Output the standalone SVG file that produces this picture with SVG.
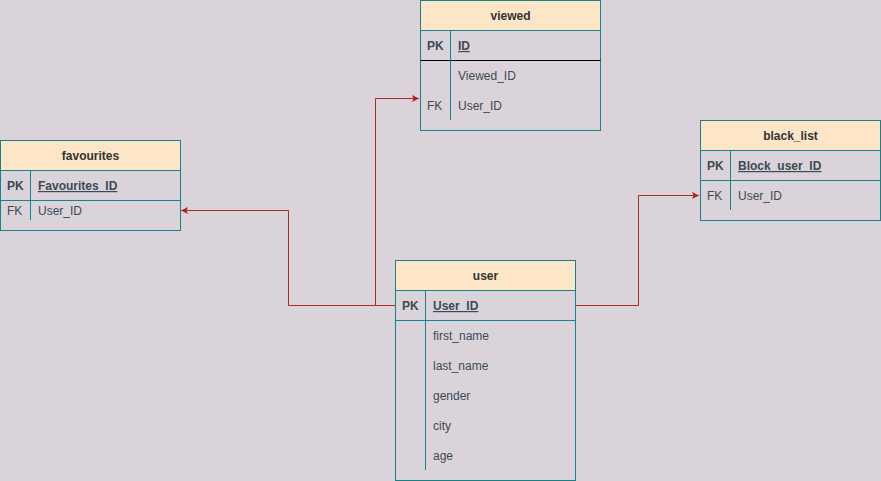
<svg xmlns="http://www.w3.org/2000/svg" width="881" height="481" viewBox="0 0 881 481">
<style>
.box{fill:#dbd3da;stroke:#12858a;stroke-width:1}
.hdr{fill:#fce6c7;stroke:#12858a;stroke-width:1}
.sep{stroke:#12858a;stroke-width:1}
.t{font-family:"Liberation Sans",Arial,sans-serif;font-size:12px;fill:#3c4a55}
.h{font-family:"Liberation Sans",Arial,sans-serif;font-size:12px;font-weight:bold;fill:#333333;text-anchor:middle}
.b{font-weight:bold}
.u{text-decoration:underline}
.e{fill:none;stroke:#ad2a25;stroke-width:1}
</style>
<defs>
<marker id="arr" markerWidth="8" markerHeight="8" refX="7" refY="4" orient="auto" markerUnits="userSpaceOnUse">
<path d="M0,0.5 L7,4 L0,7.5 L1.5,4 Z" fill="#b22222"/>
</marker>
</defs>
<rect width="881" height="481" fill="#dbd3da"/>
<g id="connectors">
<path class="e" d="M395.5,305.5 H288.5 V210.5 H181" marker-end="url(#arr)"/>
<path class="e" d="M395.5,305.5 H375.5 V98.5 H419" marker-end="url(#arr)"/>
<path class="e" d="M575.5,305.5 H638.5 V195.5 H699" marker-end="url(#arr)"/>
</g>
<g id="viewed">
<rect class="box" x="420.5" y="0.5" width="180" height="130"/>
<rect class="hdr" x="420.5" y="0.5" width="180" height="30"/>
<text class="h" x="510.5" y="20">viewed</text>
<line x1="420.5" y1="60.5" x2="600.5" y2="60.5" stroke="#000" stroke-width="1"/>
<line class="sep" x1="450.5" y1="30.5" x2="450.5" y2="120"/>
<text class="t b" x="427" y="50">PK</text>
<text class="t b u" x="458" y="50">ID</text>
<text class="t" x="458" y="80">Viewed_ID</text>
<text class="t" x="427" y="110">FK</text>
<text class="t" x="458" y="110">User_ID</text>
</g>
<g id="favourites">
<rect class="box" x="0.5" y="140.5" width="180" height="90"/>
<rect class="hdr" x="0.5" y="140.5" width="180" height="30"/>
<text class="h" x="90.5" y="160">favourites</text>
<line class="sep" x1="0.5" y1="200.5" x2="180.5" y2="200.5"/>
<line class="sep" x1="30.5" y1="170.5" x2="30.5" y2="220"/>
<text class="t b" x="7" y="190">PK</text>
<text class="t b u" x="38" y="190">Favourites_ID</text>
<text class="t" x="7" y="215">FK</text>
<text class="t" x="38" y="215">User_ID</text>
</g>
<g id="black_list">
<rect class="box" x="700.5" y="120.5" width="180" height="100"/>
<rect class="hdr" x="700.5" y="120.5" width="180" height="30"/>
<text class="h" x="790.5" y="140">black_list</text>
<line class="sep" x1="700.5" y1="180.5" x2="880.5" y2="180.5"/>
<line class="sep" x1="730.5" y1="150.5" x2="730.5" y2="210"/>
<text class="t b" x="707" y="170">PK</text>
<text class="t b u" x="738" y="170">Block_user_ID</text>
<text class="t" x="707" y="200">FK</text>
<text class="t" x="738" y="200">User_ID</text>
</g>
<g id="user">
<rect class="box" x="395.5" y="260.5" width="180" height="220"/>
<rect class="hdr" x="395.5" y="260.5" width="180" height="30"/>
<text class="h" x="485.5" y="280">user</text>
<line class="sep" x1="395.5" y1="320.5" x2="575.5" y2="320.5"/>
<line class="sep" x1="425.5" y1="290.5" x2="425.5" y2="470"/>
<text class="t b" x="402" y="310">PK</text>
<text class="t b u" x="433" y="310">User_ID</text>
<text class="t" x="433" y="340">first_name</text>
<text class="t" x="433" y="370">last_name</text>
<text class="t" x="433" y="400">gender</text>
<text class="t" x="433" y="430">city</text>
<text class="t" x="433" y="460">age</text>
</g>
</svg>
